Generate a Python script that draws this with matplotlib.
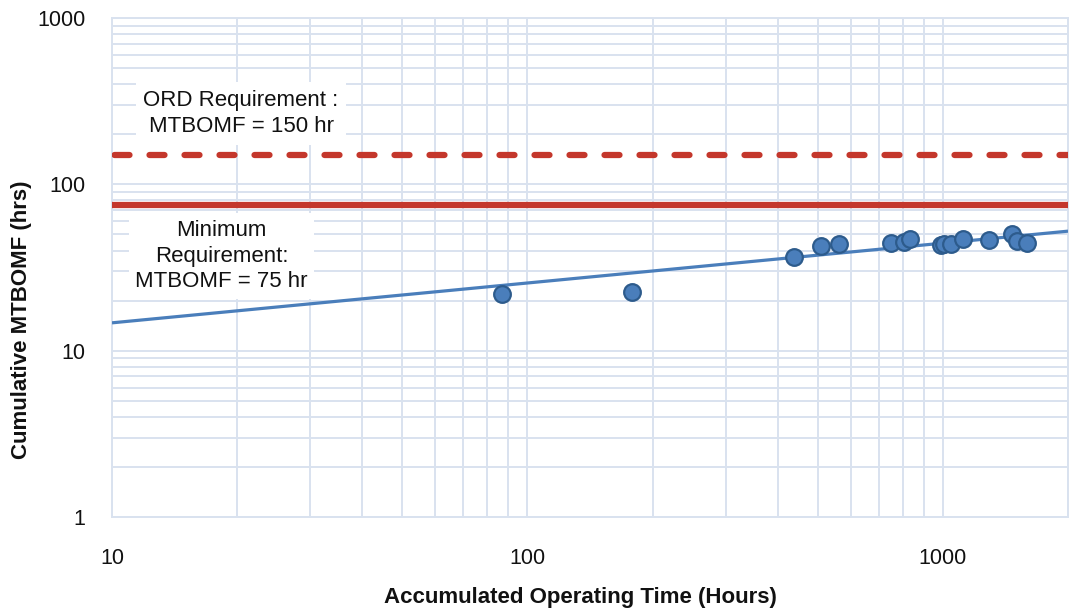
import matplotlib
matplotlib.use("Agg")
import matplotlib.pyplot as plt
from matplotlib.ticker import FixedLocator, FixedFormatter, LogLocator, NullFormatter

plt.rcParams['font.family'] = ['Liberation Sans', 'DejaVu Sans']

# ---- data ----
op_hours = [86.6, 178.8, 438, 510, 562, 749, 806, 832, 988, 1006, 1044, 1119, 1290, 1468, 1509, 1594]
mtbomf = [21.9, 22.5, 36.7, 42.7, 43.5, 44.2, 45.1, 46.9, 43.1, 43.7, 43.5, 46.9, 46.4, 50.0, 45.8, 44.5]
trend_x = [10, 2000]
trend_y = [14.7, 52.3]
ord_req = 150
min_req = 75
x_ticks = [10, 100, 1000]
x_ticklabels = ['10', '100', '1000']
y_ticks = [1, 10, 100, 1000]
y_ticklabels = ['1', '10', '100', '1000']
ord_label = "ORD Requirement :\nMTBOMF = 150 hr"
min_label = "Minimum\nRequirement:\nMTBOMF = 75 hr"
x_label = "Accumulated Operating Time (Hours)"
y_label = "Cumulative MTBOMF (hrs)"

grid_c = '#D9E2EF'
red = '#C4372C'
blue = '#4A7EBB'
edge = '#2D5B8C'

fig = plt.figure(figsize=(10.69, 6.15), dpi=100)
ax = fig.add_axes([112/1069, 98/615, 956/1069, 499/615])
ax.set_xscale('log')
ax.set_yscale('log')
ax.set_xlim(10, 2000)
ax.set_ylim(1, 1000)

ax.xaxis.set_major_locator(FixedLocator(x_ticks))
ax.xaxis.set_major_formatter(FixedFormatter(x_ticklabels))
ax.yaxis.set_major_locator(FixedLocator(y_ticks))
ax.yaxis.set_major_formatter(FixedFormatter(y_ticklabels))
ax.xaxis.set_minor_locator(LogLocator(base=10, subs=range(2, 10)))
ax.yaxis.set_minor_locator(LogLocator(base=10, subs=range(2, 10)))
ax.xaxis.set_minor_formatter(NullFormatter())
ax.yaxis.set_minor_formatter(NullFormatter())

ax.grid(True, which='both', color=grid_c, linewidth=1.4)
ax.set_axisbelow(True)
ax.tick_params(which='both', length=0)
ax.tick_params(axis='y', which='major', labelsize=15.5, pad=19, colors='#111111')
ax.tick_params(axis='x', which='major', labelsize=15.5, pad=22, colors='#111111')
for s in ax.spines.values():
    s.set_color(grid_c)
    s.set_linewidth(1.4)

ax.axhline(ord_req, color=red, linewidth=4.5, linestyle=(5.2, (2.4, 3.2)),
           dash_capstyle='round', zorder=3)
ax.axhline(min_req, color=red, linewidth=4.5, zorder=3)

ax.plot(trend_x, trend_y, color=blue, linewidth=2.3, zorder=4, solid_capstyle='butt')
ax.plot(op_hours, mtbomf, linestyle='none', marker='o', markersize=12,
        markerfacecolor=blue, markeredgecolor=edge, markeredgewidth=1.6, zorder=5)

ax.text(0.135, 0.8086, ord_label, transform=ax.transAxes, ha='center', va='center',
        fontsize=16, color='#111111', linespacing=1.35,
        bbox=dict(facecolor='white', edgecolor='none', boxstyle='square,pad=0.35'), zorder=2)
ax.text(0.1145, 0.523, min_label, transform=ax.transAxes, ha='center', va='center',
        fontsize=16, color='#111111', linespacing=1.3,
        bbox=dict(facecolor='white', edgecolor='none', boxstyle='square,pad=0.3'), zorder=2)

fig.text(580/1069, 1 - 597/615, x_label, ha='center', va='center',
         fontsize=16, fontweight='bold', color='#111111')
fig.text(22/1069, 1 - 320/615, y_label, ha='center', va='center', rotation=90,
         fontsize=16, fontweight='bold', color='#111111')

fig.savefig('out.png', dpi=100)
